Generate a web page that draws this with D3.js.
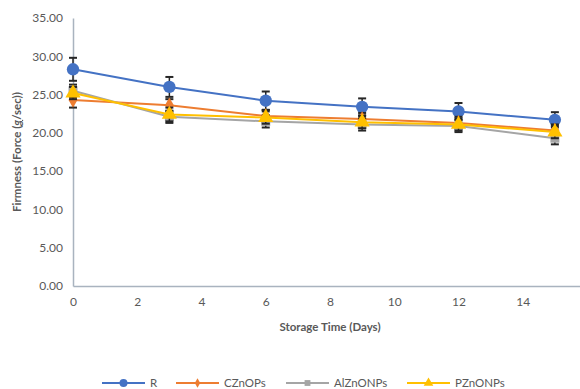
<!DOCTYPE html>
<html>
<head>
<meta charset="utf-8">
<script src="https://cdn.jsdelivr.net/npm/d3@7"></script>
<style>
  html, body { margin: 0; padding: 0; background: #fff; }
  svg { display: block; font-family: Lato, "Open Sans", sans-serif; }
</style>
</head>
<body>
<svg id="chart" width="580" height="389"></svg>
<script>
// Storage days sampled
const days = [0, 3, 6, 9, 12, 15];
const xTicks = [0, 2, 4, 6, 8, 10, 12, 14, 16];
const yTicks = [0, 5, 10, 15, 20, 25, 30, 35];

// Firmness means and standard deviations per treatment
const seriesNames = ["R", "CZnOPs", "AlZnONPs", "PZnONPs"];
const rValues   = [28.3, 26.0, 24.2, 23.4, 22.8, 21.7];
const rErr      = [1.5, 1.3, 1.2, 1.1, 1.1, 1.0];
const czValues  = [24.3, 23.6, 22.2, 21.8, 21.3, 20.3];
const czErr     = [1.0, 0.8, 0.8, 0.8, 0.8, 0.8];
const alValues  = [25.5, 22.1, 21.5, 21.1, 20.9, 19.3];
const alErr     = [0.8, 0.8, 0.8, 0.8, 0.8, 0.8];
const pValues   = [25.2, 22.4, 22.0, 21.4, 21.1, 20.1];
const pErr      = [0.8, 0.9, 0.8, 0.8, 0.8, 0.8];

const colors = ["#4472C4", "#ED7D31", "#A5A5A5", "#FFC000"];
const symbols = [d3.symbolCircle, d3.symbolDiamond, d3.symbolSquare, d3.symbolTriangle];
const symSizes = [120, 70, 80, 100];
const legendSymSizes = [50, 25, 34, 40];

const series = [
  { name: seriesNames[0], values: rValues,  err: rErr },
  { name: seriesNames[1], values: czValues, err: czErr },
  { name: seriesNames[2], values: alValues, err: alErr },
  { name: seriesNames[3], values: pValues,  err: pErr }
];

const svg = d3.select("#chart");
const x = d3.scaleLinear().domain([0, 16]).range([73, 587]);
const y = d3.scaleLinear().domain([0, 35]).range([286, 18]);

const axisColor = "#A9B3BF";
const textColor = "#595959";

// Axes
const xAxis = svg.append("g").attr("transform", `translate(0,${y(0)})`)
  .call(d3.axisBottom(x).tickValues(xTicks).tickSize(0).tickPadding(11).tickFormat(d3.format("d")));
const yAxis = svg.append("g").attr("transform", `translate(${x(0)},0)`)
  .call(d3.axisLeft(y).tickValues(yTicks).tickSize(0).tickPadding(10).tickFormat(d3.format(".2f")));
[xAxis, yAxis].forEach(g => {
  g.select(".domain").attr("stroke", axisColor).attr("stroke-width", 1.5);
  g.selectAll("text").attr("fill", textColor).attr("font-size", 12)
    .attr("font-family", "Lato, 'Open Sans', sans-serif");
});

// Axis titles
svg.append("text")
  .attr("x", 330).attr("y", 331)
  .attr("text-anchor", "middle")
  .attr("font-size", 11.5).attr("font-weight", "bold").attr("fill", textColor)
  .text("Storage Time (Days)");

const yTitle = svg.append("text")
  .attr("transform", "translate(21,152) rotate(-90)")
  .attr("text-anchor", "middle")
  .attr("font-size", 11.5).attr("font-weight", "bold").attr("fill", textColor);
yTitle.append("tspan").text("Firmness (Force (");
yTitle.append("tspan").attr("font-style", "italic").attr("text-decoration", "underline").text("g");
yTitle.append("tspan").text("/sec))");

// Series lines, error bars and markers
const line = d3.line().x((d, i) => x(days[i])).y(d => y(d));

series.forEach((s, si) => {
  const g = svg.append("g");
  g.append("path")
    .datum(s.values)
    .attr("d", line)
    .attr("fill", "none")
    .attr("stroke", colors[si])
    .attr("stroke-width", 2);

  const eb = g.selectAll(".err").data(s.values).join("g");
  eb.append("line")
    .attr("x1", (d, i) => x(days[i])).attr("x2", (d, i) => x(days[i]))
    .attr("y1", (d, i) => y(d - s.err[i])).attr("y2", (d, i) => y(d + s.err[i]))
    .attr("stroke", "#262626").attr("stroke-width", 1.5);
  [-1, 1].forEach(sign => {
    eb.append("line")
      .attr("x1", (d, i) => x(days[i]) - 4).attr("x2", (d, i) => x(days[i]) + 4)
      .attr("y1", (d, i) => y(d + sign * s.err[i])).attr("y2", (d, i) => y(d + sign * s.err[i]))
      .attr("stroke", "#262626").attr("stroke-width", 2);
  });

  g.selectAll(".mk").data(s.values).join("path")
    .attr("transform", (d, i) => `translate(${x(days[i])},${y(d)})`)
    .attr("d", d3.symbol().type(symbols[si]).size(symSizes[si]))
    .attr("fill", colors[si]);
});

// Legend
const legendX = [102, 176, 286, 407];
const legend = svg.append("g").attr("transform", "translate(0,383)");
series.forEach((s, si) => {
  const lg = legend.append("g").attr("transform", `translate(${legendX[si]},0)`);
  lg.append("line").attr("x1", 0).attr("x2", 43).attr("y1", 0).attr("y2", 0)
    .attr("stroke", colors[si]).attr("stroke-width", 2);
  lg.append("path").attr("transform", "translate(21.5,0)")
    .attr("d", d3.symbol().type(symbols[si]).size(legendSymSizes[si]))
    .attr("fill", colors[si]);
  lg.append("text").attr("x", 48).attr("y", 4)
    .attr("font-size", 11.5).attr("fill", textColor)
    .text(s.name);
});
</script>
</body>
</html>
